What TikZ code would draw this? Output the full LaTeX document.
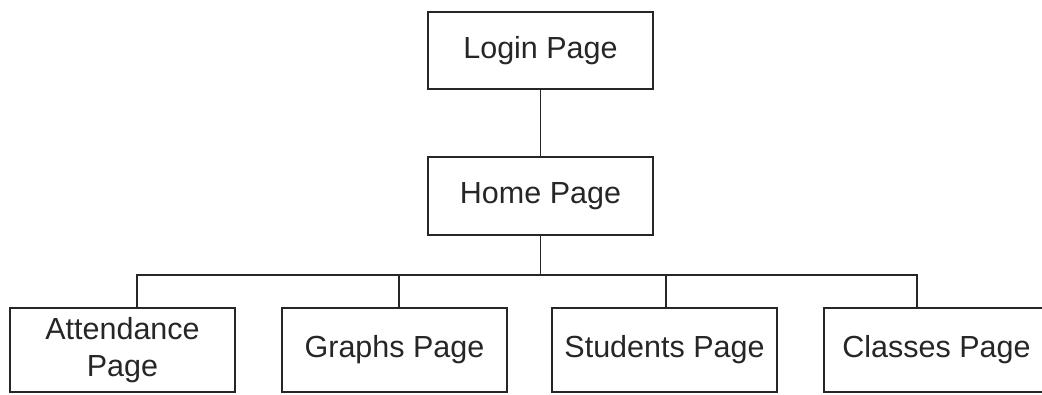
\documentclass[tikz,border=0pt]{standalone}
\usepackage{fontspec}
\setmainfont{Liberation Sans}
\begin{document}
\begin{tikzpicture}[x=1pt,y=-1pt,
  box/.style={draw=black!85, line width=1.8pt, minimum width=225pt, inner sep=0pt,
    align=center, font=\fontsize{30.5}{37}\selectfont, text=black!85},
  link/.style={draw=black!85, line width=1.8pt, line cap=rect}]
\useasboundingbox (0,0) rectangle (1042,394);
\clip (0,0) rectangle (1042,394);
\node[box, minimum height=77pt] (login) at (540.5,50.5) {Login Page};
\node[box, minimum height=78pt] (home) at (540.5,196) {Home Page};
\node[box, minimum height=84pt] (att) at (122.5,350) {Attendance\\Page};
\node[box, minimum height=84pt] (graphs) at (394.5,350) {Graphs Page};
\node[box, minimum height=84pt] (students) at (664.5,350) {Students Page};
\node[box, minimum height=84pt] (classes) at (936.5,350) {Classes Page};
\coordinate (bar) at (540.5,275);
\coordinate (ja) at (137,275);
\coordinate (jg) at (399,275);
\coordinate (js) at (666,275);
\coordinate (jc) at (917,275);
\draw[link] (login) -- (home);
\draw[link] (home.south) -- (bar);
\draw[link] (ja) -- (jc);
\draw[link] (ja) -- (att.north -| ja);
\draw[link] (jg) -- (graphs.north -| jg);
\draw[link] (js) -- (students.north -| js);
\draw[link] (jc) -- (classes.north -| jc);
\end{tikzpicture}
\end{document}
